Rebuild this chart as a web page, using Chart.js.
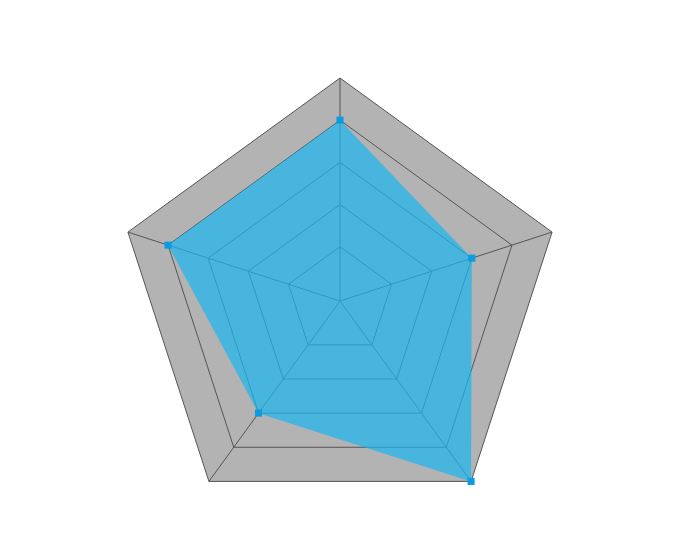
<!DOCTYPE html>
<html>
<head>
<meta charset="utf-8">
<script src="https://cdn.jsdelivr.net/npm/chart.js@4/dist/chart.umd.min.js"></script>
<style>
  html, body { margin: 0; padding: 0; background: #fff; }
  #wrap { width: 680px; height: 554px; }
</style>
</head>
<body>
<div id="wrap"><canvas id="myChart"></canvas></div>
<script>
// ejes del radar (sin texto visible en la imagen)
const categories = ['A', 'B', 'C', 'D', 'E'];
const seriesValues = [80, 60, 100, 60, 80];
// anillos de la rejilla
const tickValues = [20, 40, 60, 80, 100];
const scaleMin = -40 / 7;
const scaleMax = 100;

new Chart('myChart', {
  type: 'radar',
  data: {
    labels: categories,
    datasets: [{
      data: seriesValues,
      fill: 'start',
      backgroundColor: 'rgba(26,182,240,0.7)',
      borderWidth: 0,
      pointStyle: 'rect',
      pointRadius: 5,
      pointHoverRadius: 5,
      pointBackgroundColor: '#0a9be3',
      pointBorderWidth: 0
    }]
  },
  options: {
    responsive: true,
    maintainAspectRatio: false,
    animation: false,
    layout: { padding: { top: 78, bottom: 30 } },
    plugins: { legend: { display: false }, tooltip: { enabled: false } },
    scales: {
      r: {
        min: scaleMin,
        max: scaleMax,
        backgroundColor: '#b3b3b3',
        afterBuildTicks: (scale) => {
          scale.ticks = [scaleMin].concat(tickValues).map(v => ({ value: v }));
        },
        ticks: { display: false },
        pointLabels: { display: false },
        grid: { color: '#555', lineWidth: 1 },
        angleLines: { color: '#555', lineWidth: 1 }
      }
    }
  }
});
</script>
</body>
</html>
